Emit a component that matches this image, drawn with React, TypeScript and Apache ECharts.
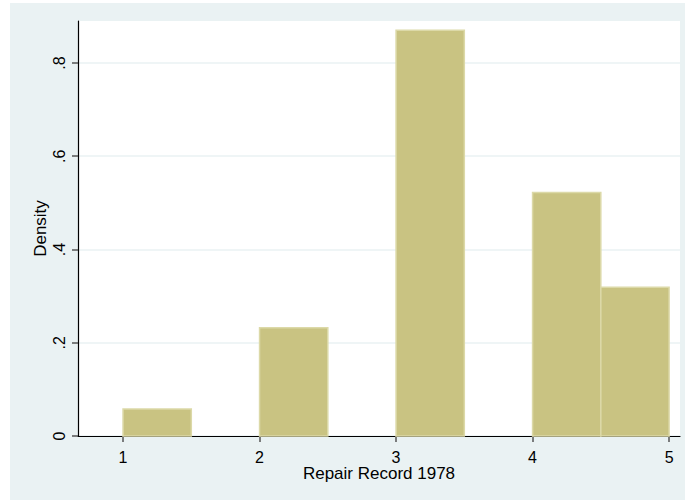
import React, { useEffect, useRef } from "react";
import * as echarts from "echarts";

const binStart = [1, 2, 3, 4, 4.5];
const binEnd = [1.5, 2.5, 3.5, 4.5, 5];
const density = [0.058, 0.232, 0.87, 0.522, 0.319];
const yTicks = [0, 0.2, 0.4, 0.6, 0.8];
const yTickLabels = ["0", ".2", ".4", ".6", ".8"];
const xTicks = [1, 2, 3, 4, 5];

export default function App() {
  const ref = useRef<HTMLDivElement>(null);
  useEffect(() => {
    if (!ref.current) return;
    const chart = echarts.init(ref.current, null, { renderer: "svg" });
    const font = "Liberation Sans, Arial, sans-serif";
    chart.setOption({
      animation: false,
      graphic: [
        {
          type: "rect",
          z: -10,
          silent: true,
          shape: { x: 10, y: 3, width: 675, height: 497 },
          style: { fill: "#EAF2F3" },
        },
      ],
      grid: {
        left: 78,
        top: 21,
        right: 5,
        bottom: 64,
        show: true,
        backgroundColor: "#ffffff",
        borderWidth: 0,
      },
      xAxis: {
        type: "value",
        min: 0.67,
        max: 5.08,
        name: "Repair Record 1978",
        nameLocation: "middle",
        nameGap: 29,
        nameMoveOverlap: false,
        nameTextStyle: { color: "#000", fontSize: 17, fontFamily: font },
        axisLine: { show: true, onZero: false, lineStyle: { color: "#000", width: 1.2 } },
        axisTick: {
          show: true,
          length: 6,
          lineStyle: { color: "#555", width: 1.5 },
          customValues: xTicks,
        },
        axisLabel: {
          color: "#000",
          fontSize: 16,
          fontFamily: font,
          margin: 13,
          customValues: xTicks,
          formatter: (v: number) => String(v),
        },
        splitLine: { show: false },
      },
      yAxis: {
        type: "value",
        min: 0,
        max: 0.89,
        name: "Density",
        nameLocation: "middle",
        nameGap: 29,
        nameMoveOverlap: false,
        nameTextStyle: { color: "#000", fontSize: 17, fontFamily: font },
        axisLine: { show: true, lineStyle: { color: "#000", width: 1.2 } },
        axisTick: {
          show: true,
          length: 6,
          lineStyle: { color: "#555", width: 1.5 },
          customValues: yTicks,
        },
        axisLabel: {
          color: "#000",
          fontSize: 16,
          fontFamily: font,
          rotate: 90,
          margin: 11,
          customValues: yTicks,
          formatter: (v: number) => {
            const i = yTicks.findIndex((t) => Math.abs(t - v) < 1e-6);
            return i >= 0 ? yTickLabels[i] : "";
          },
        },
        splitLine: {
          show: true,
          lineStyle: { color: "#EAF2F3", width: 1.5 },
        },
      },
      series: [
        {
          type: "custom",
          data: density.map((d, i) => [binStart[i], binEnd[i], d]),
          renderItem: (params: any, api: any) => {
            const p0 = api.coord([api.value(0), api.value(2)]);
            const p1 = api.coord([api.value(1), 0]);
            return {
              type: "rect",
              shape: { x: p0[0], y: p0[1], width: p1[0] - p0[0], height: p1[1] - p0[1] },
              style: { fill: "#C9C382", stroke: "#DCD9A8", lineWidth: 1.5 },
            };
          },
          z: 2,
        },
      ],
    });
    return () => chart.dispose();
  }, []);
  return (
    <div
      ref={ref}
      style={{ position: "absolute", left: 0, top: 0, width: 685, height: 500 }}
    />
  );
}
